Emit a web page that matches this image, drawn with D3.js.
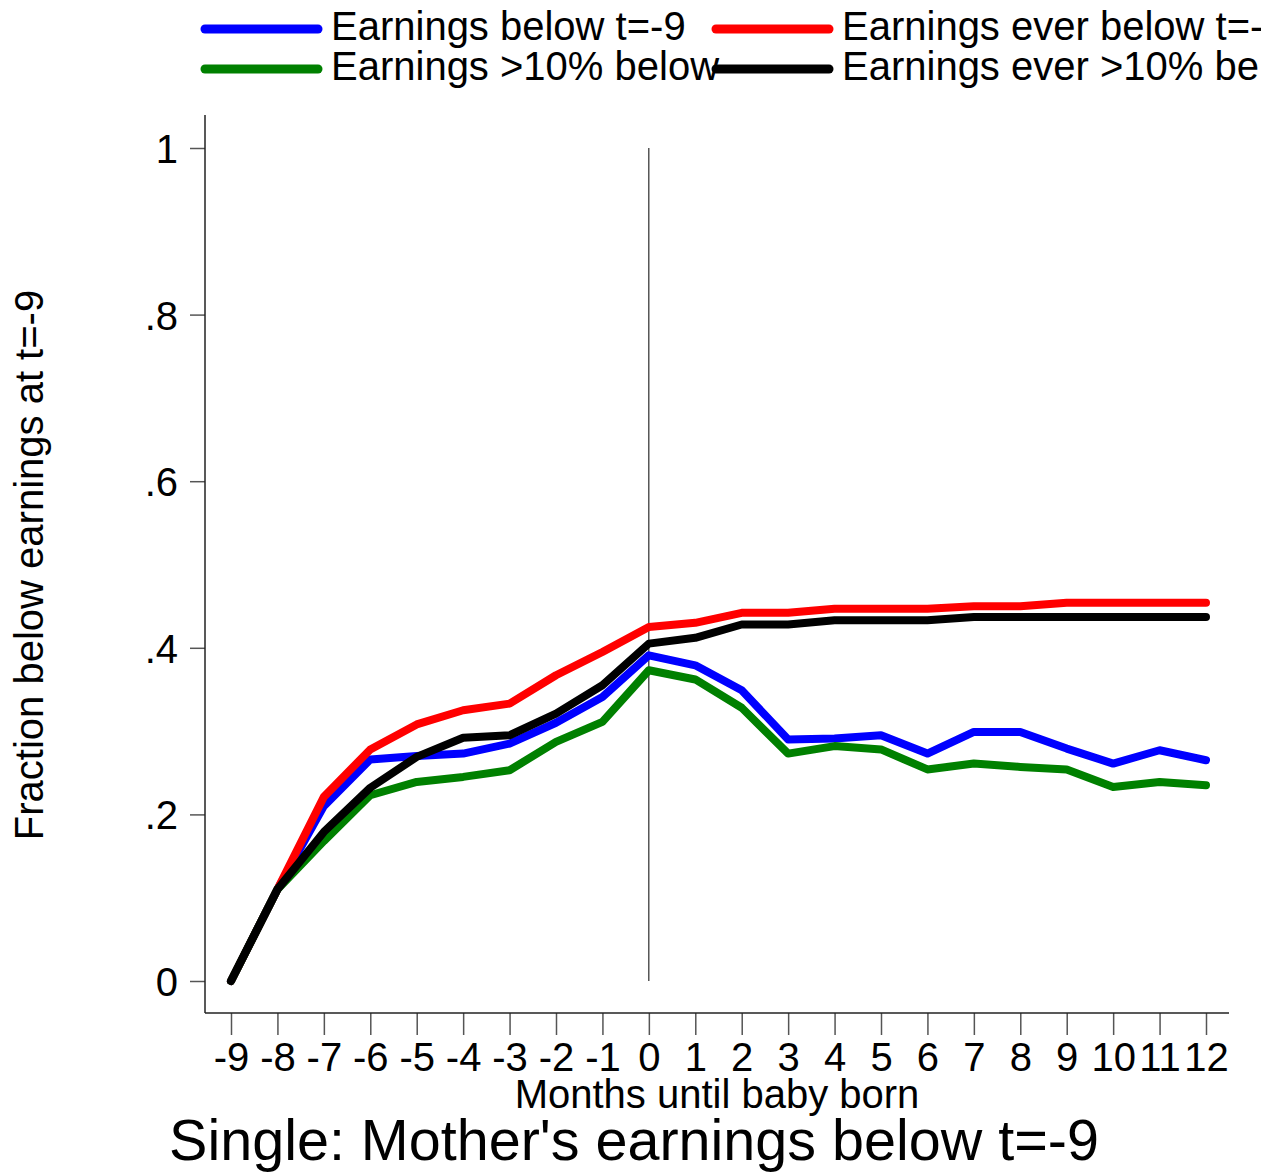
<!DOCTYPE html>
<meta charset="utf-8">
<script src="https://d3js.org/d3.v7.min.js"></script>
<style>
body { margin: 0; background: #fff; }
text { font-family: "Liberation Sans", Arial, sans-serif; fill: #000; }
</style>
<body>
<div id="canvas"></div>
<script>

// months relative to birth
var months = [-9, -8, -7, -6, -5, -4, -3, -2, -1, 0, 1, 2, 3, 4, 5, 6, 7, 8, 9, 10, 11, 12];

// fraction below earnings at t=-9, one array per series
var belowT9 =      [0, .11, .210, .266, .270, .273, .285, .310, .341, .391, .379, .349, .290, .291, .295, .273, .299, .299, .279, .261, .277, .265];
var everBelowT9 =  [0, .11, .221, .278, .308, .325, .333, .367, .395, .425, .430, .442, .442, .447, .447, .447, .450, .450, .454, .454, .454, .454];
var below10pct =   [0, .11, .168, .223, .239, .245, .253, .287, .311, .373, .362, .328, .273, .282, .278, .254, .261, .257, .254, .233, .239, .235];
var everBelow10 =  [0, .11, .179, .232, .269, .292, .295, .321, .355, .405, .412, .428, .428, .433, .433, .433, .437, .437, .437, .437, .437, .437];

var seriesNames = ["Earnings below t=-9", "Earnings ever below t=-9", "Earnings >10% below", "Earnings ever >10% below"];
var seriesColors = ["#0000ff", "#ff0000", "#008000", "#000000"];
var seriesValues = [belowT9, everBelowT9, below10pct, everBelow10];

var yTicks = [0, .2, .4, .6, .8, 1];
var yTickLabels = ["0", ".2", ".4", ".6", ".8", "1"];

var width = 1273, height = 1175;

var svg = d3.select("#canvas").append("svg")
    .attr("width", width)
    .attr("height", height);

// legenda cortada na borda direita, como no original
svg.append("defs").append("clipPath")
    .attr("id", "legendClip")
    .append("rect")
    .attr("x", 0).attr("y", 0)
    .attr("width", 1261).attr("height", 100);

// escalas
var x = d3.scaleLinear().domain([-9, 12]).range([231, 1206]);
var y = d3.scaleLinear().domain([0, 1]).range([981, 148]);

var axisLeftX = 205, axisBottomY = 1013;

// eixo Y
var yAxis = d3.axisLeft(y)
    .tickValues(yTicks)
    .tickFormat(function(d, i) { return yTickLabels[i]; })
    .tickSize(15)
    .tickPadding(12);

var gy = svg.append("g")
    .attr("transform", "translate(" + axisLeftX + ",0)")
    .call(yAxis);
gy.select(".domain").remove();
gy.selectAll(".tick line").attr("stroke", "#555").attr("stroke-width", 1.5);
gy.selectAll(".tick text").style("font-size", "40px").attr("dy", "0.36em");

svg.append("line")
    .attr("x1", axisLeftX).attr("x2", axisLeftX)
    .attr("y1", 115).attr("y2", axisBottomY)
    .attr("stroke", "#222").attr("stroke-width", 1.5);

// eixo X (hifen simples, nao o sinal de menos do d3.format)
var xAxis = d3.axisBottom(x)
    .tickValues(months)
    .tickFormat(function(d) { return String(d); })
    .tickSize(22)
    .tickPadding(8);

var gx = svg.append("g")
    .attr("transform", "translate(0," + axisBottomY + ")")
    .call(xAxis);
gx.select(".domain").remove();
gx.selectAll(".tick line").attr("stroke", "#555").attr("stroke-width", 1.5);
gx.selectAll(".tick text").style("font-size", "40px").attr("dy", "0.71em");

svg.append("line")
    .attr("x1", axisLeftX).attr("x2", 1229)
    .attr("y1", axisBottomY).attr("y2", axisBottomY)
    .attr("stroke", "#222").attr("stroke-width", 1.5);

// linha vertical no nascimento
svg.append("line")
    .attr("x1", x(0)).attr("x2", x(0))
    .attr("y1", y(1)).attr("y2", y(0))
    .attr("stroke", "#000").attr("stroke-width", 1);

// series
var line = d3.line()
    .x(function(d, i) { return x(months[i]); })
    .y(function(d) { return y(d); });

seriesValues.forEach(function(vals, s) {
    svg.append("path")
        .datum(vals)
        .attr("d", line)
        .attr("fill", "none")
        .attr("stroke", seriesColors[s])
        .attr("stroke-width", 8)
        .attr("stroke-linejoin", "round")
        .attr("stroke-linecap", "round");
});

// titulos dos eixos
svg.append("text")
    .attr("transform", "translate(43,565) rotate(-90)")
    .attr("text-anchor", "middle")
    .style("font-size", "40px")
    .text("Fraction below earnings at t=-9");

svg.append("text")
    .attr("x", 717)
    .attr("y", 1108)
    .attr("text-anchor", "middle")
    .style("font-size", "40px")
    .text("Months until baby born");

svg.append("text")
    .attr("x", 634)
    .attr("y", 1160)
    .attr("text-anchor", "middle")
    .style("font-size", "57.5px")
    .text("Single: Mother's earnings below t=-9");

// legenda
var legendPos = [
    {lx: 205, tx: 331, ly: 29, ty: 40},
    {lx: 716, tx: 842, ly: 29, ty: 40},
    {lx: 205, tx: 331, ly: 69, ty: 80},
    {lx: 716, tx: 842, ly: 69, ty: 80}
];

var legend = svg.append("g")
    .attr("clip-path", "url(#legendClip)")
    .selectAll(".legend")
    .data(seriesNames)
    .enter()
    .append("g")
    .attr("class", "legend");

legend.append("line")
    .attr("x1", function(d, i) { return legendPos[i].lx; })
    .attr("x2", function(d, i) { return legendPos[i].lx + 113; })
    .attr("y1", function(d, i) { return legendPos[i].ly; })
    .attr("y2", function(d, i) { return legendPos[i].ly; })
    .attr("stroke", function(d, i) { return seriesColors[i]; })
    .attr("stroke-width", 9)
    .attr("stroke-linecap", "round");

legend.append("text")
    .attr("x", function(d, i) { return legendPos[i].tx; })
    .attr("y", function(d, i) { return legendPos[i].ty; })
    .style("font-size", "40px")
    .text(function(d) { return d; });

</script>
</body>
